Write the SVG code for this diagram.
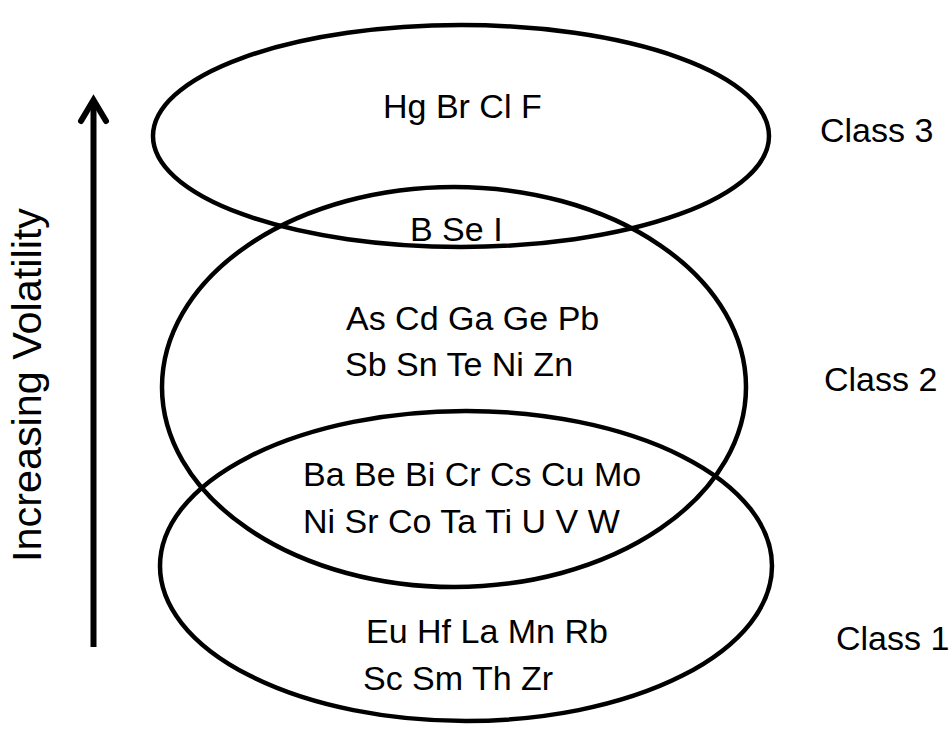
<svg xmlns="http://www.w3.org/2000/svg" width="951" height="729" viewBox="0 0 951 729">
<style>
.ring{fill:none;stroke:#000;stroke-width:4.5}
.t{font-family:"Liberation Sans",Arial,sans-serif;font-size:34px;fill:#000}
.axis{stroke:#000;stroke-width:6;fill:none}
.head{fill:none;stroke:#000;stroke-width:6;stroke-linecap:round;stroke-linejoin:miter}
</style>
<rect width="951" height="729" fill="#fff"/>
<g id="class1">
<ellipse class="ring" cx="466" cy="566" rx="306" ry="155"/>
<text class="t" x="366" y="643">Eu Hf La Mn Rb</text>
<text class="t" x="363" y="690">Sc Sm Th Zr</text>
<text class="t" x="836" y="650">Class 1</text>
</g>
<g id="class2">
<ellipse class="ring" cx="454" cy="387" rx="292" ry="200"/>
<text class="t" x="346" y="330">As Cd Ga Ge Pb</text>
<text class="t" x="345" y="376">Sb Sn Te Ni Zn</text>
<text class="t" x="824" y="391">Class 2</text>
</g>
<g id="class3">
<ellipse class="ring" cx="461" cy="136" rx="308" ry="111"/>
<text class="t" x="383" y="118">Hg Br Cl F</text>
<text class="t" x="820" y="142">Class 3</text>
</g>
<g id="overlap23">
<text class="t" x="410" y="241">B Se I</text>
</g>
<g id="overlap12">
<text class="t" x="303" y="486">Ba Be Bi Cr Cs Cu Mo</text>
<text class="t" x="303" y="533">Ni Sr Co Ta Ti U V W</text>
</g>
<g id="connectors">
<line class="axis" x1="93.5" y1="647" x2="93.5" y2="102"/>
<polyline class="head" points="81,121 93.5,100 106,121"/>
</g>
<g id="axis-label">
<text class="t" transform="translate(41,385) rotate(-90)" text-anchor="middle" textLength="354" lengthAdjust="spacingAndGlyphs" style="font-size:40px">Increasing Volatility</text>
</g>
</svg>
